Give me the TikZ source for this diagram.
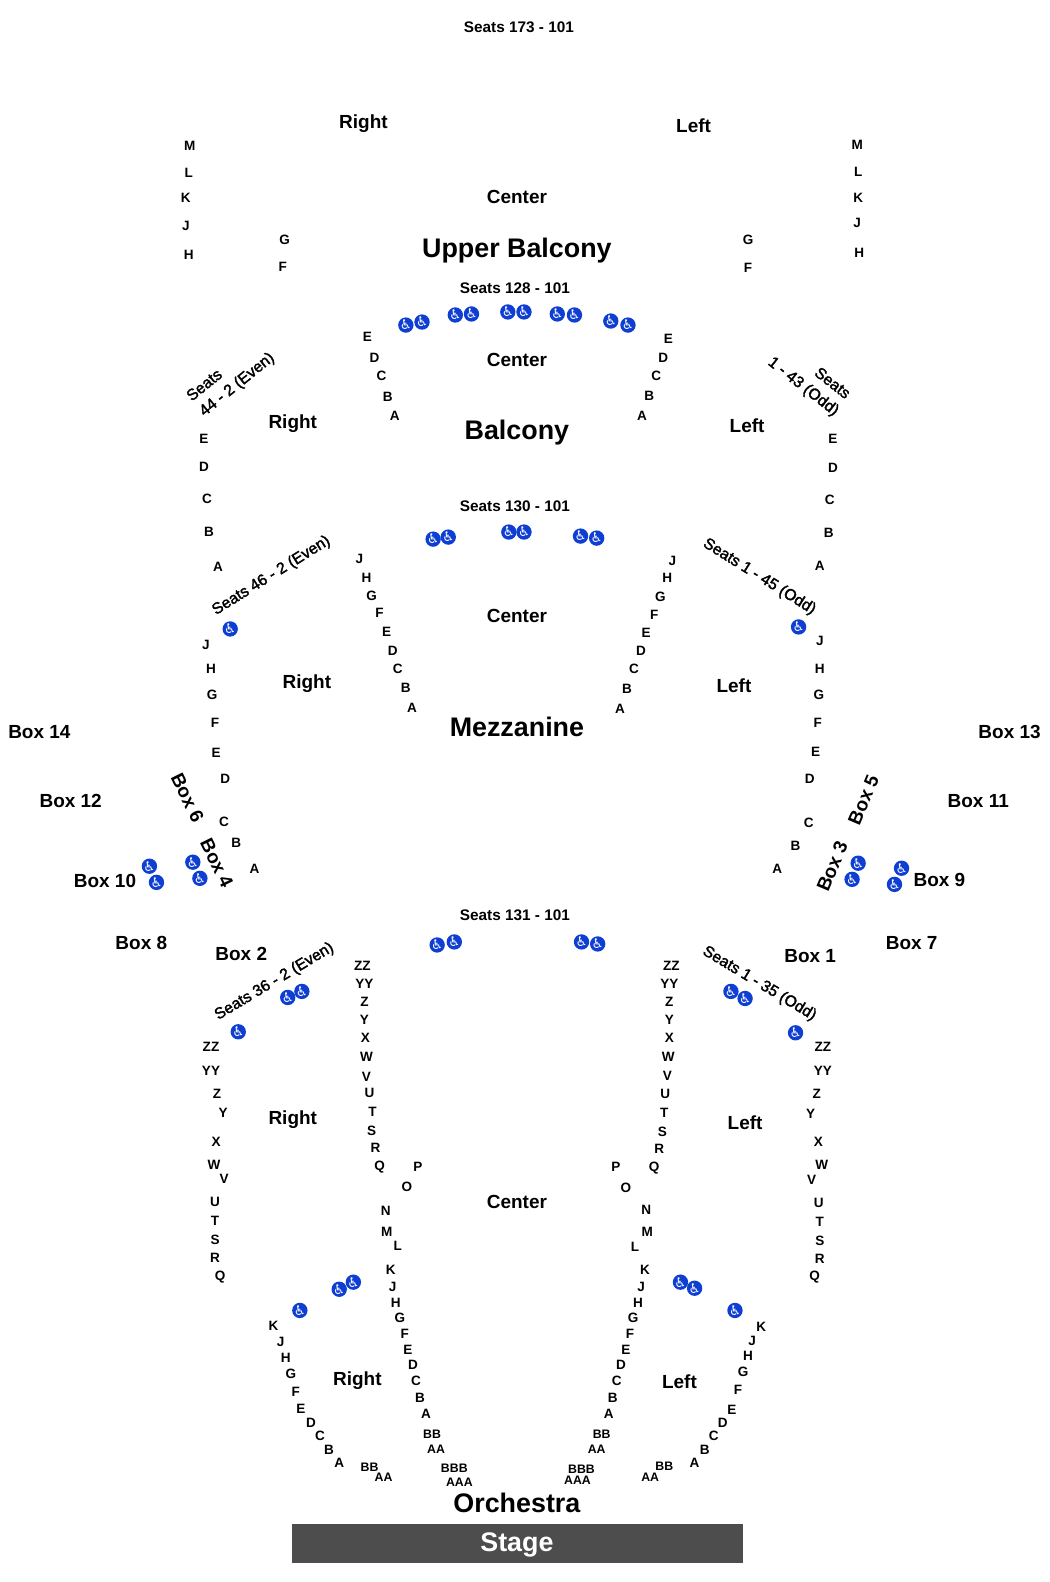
\documentclass[tikz,border=0pt]{standalone}
\usepackage{fontspec}
\setmainfont{Liberation Sans}
\newfontfamily\wcfont{DejaVu Sans}
\newfontfamily\medfont[FakeBold=2]{Liberation Sans}
\definecolor{wcblue}{HTML}{0F3FD2}
\definecolor{stagegray}{HTML}{4D4D4D}
\newcommand{\wcglyph}{{\wcfont\symbol{"267F}}}

\begin{document}
\begin{tikzpicture}[x=0.5pt,y=-0.5pt,
  lbl/.style={inner sep=0pt,text depth=0pt},
  rowlbl/.style={lbl,text height=4.8pt,font=\bfseries\fontsize{6.7}{7}\selectfont},
  dbllbl/.style={lbl,text height=4.4pt,font=\bfseries\fontsize{6.1}{7}\selectfont},
  seatlbl/.style={lbl,text height=5.4pt,font=\bfseries\fontsize{7.6}{8}\selectfont},
  slantlbl/.style={lbl,text height=5.6pt,font=\medfont\fontsize{7.8}{8}\selectfont},
  seclbl/.style={lbl,text height=6.8pt,font=\bfseries\fontsize{9.4}{10}\selectfont},
  levellbl/.style={lbl,text height=9.6pt,font=\bfseries\fontsize{13.3}{14}\selectfont},
  wheel/.style={circle,fill=wcblue,text=white,inner sep=0pt,minimum size=7pt,font=\fontsize{6.6}{6}\selectfont}]
\useasboundingbox (0,0) rectangle (1040,1567);

\fill[stagegray] (289.5,1509.5) rectangle (735.5,1548.5);
\node[levellbl,text=white] (stage) at (512,1527.5) {Stage};
\node[levellbl] (orchestra) at (512,1488.5) {Orchestra};
\node[levellbl] (mezzanine) at (512,720) {Mezzanine};
\node[levellbl] (balcony) at (512,426) {Balcony};
\node[levellbl] (upper) at (512,245) {Upper Balcony};

\foreach \t/\x/\y [count=\i] in {Seats 173 - 101/514/27,Seats 128 - 101/510/285,Seats 130 - 101/510/501,Seats 131 - 101/510/906.5}
  \node[seatlbl] (seats\i) at (\x,\y) {\t};

\node[slantlbl,rotate=39] (seatsa) at (202,381) {Seats};
\node[slantlbl,rotate=39] (seatsb) at (234,380) {44 - 2 (Even)};
\node[slantlbl,rotate=-38] (seatsc) at (825,379) {Seats};
\node[slantlbl,rotate=-38] (seatsd) at (796.5,382) {1 - 43 (Odd)};
\node[slantlbl,rotate=32] (seatse) at (268,569) {Seats 46 - 2 (Even)};
\node[slantlbl,rotate=-32] (seatsf) at (753,570) {Seats 1 - 45 (Odd)};
\node[slantlbl,rotate=31] (seatsg) at (271,971) {Seats 36 - 2 (Even)};
\node[slantlbl,rotate=-31] (seatsh) at (753,973) {Seats 1 - 35 (Odd)};

\foreach \t/\x/\y [count=\i] in {Right/360/120,Left/687/124,Center/512/195,Center/512/356,Right/290/418,Left/740/422,Center/512/610,Right/304/675.5,Left/727/679.5,Right/290/1107.5,Left/738/1111.5,Center/512/1190.5,Right/354/1365.5,Left/673/1368.5}
  \node[seclbl] (sec\i) at (\x,\y) {\t};

\foreach \t/\x/\y [count=\i] in {14/39/725,13/1000/725,12/70/793,11/969/793,10/104/872,9/930.5/871,8/140/934,7/903/934,2/239/945,1/802.5/947}
  \node[seclbl] (box\t) at (\x,\y) {Box \t};
\node[seclbl,rotate=-64] (box6) at (186,790) {Box 6};
\node[seclbl,rotate=-64] (box4) at (215,855) {Box 4};
\node[seclbl,rotate=67] (box5) at (855,792) {Box 5};
\node[seclbl,rotate=67] (box3) at (824,858) {Box 3};

% upper balcony
\foreach \t/\x/\y in {M/188/144,L/187/171,K/184/196,J/184/224,H/187/252,G/282/237,F/280/264}
  \node[rowlbl] (ubr\t) at (\x,\y) {\t};
\foreach \t/\x/\y in {M/849/143,L/850/170,K/850/196,J/849/221,H/851/250,G/741/237,F/741/265}
  \node[rowlbl] (ubl\t) at (\x,\y) {\t};

% balcony
\foreach \t/\x/\y in {E/364/333,D/371/354,C/378/372,B/384/393,A/391/412}
  \node[rowlbl] (bca\t) at (\x,\y) {\t};
\foreach \t/\x/\y in {E/662/335,D/657/354,C/650/372,B/643/392,A/636/412}
  \node[rowlbl] (bcb\t) at (\x,\y) {\t};
\foreach \t/\x/\y in {E/202/434,D/202/462,C/205/494,B/207/527,A/216/561}
  \node[rowlbl] (br\t) at (\x,\y) {\t};
\foreach \t/\x/\y in {E/825/434,D/825/463,C/822/495,B/821/528,A/812/560}
  \node[rowlbl] (bl\t) at (\x,\y) {\t};

% mezzanine
\foreach \t/\x/\y in {J/356/553,H/363/572,G/368/590,F/376/607,E/383/626,D/389/644,C/394/662,B/402/681,A/408/701}
  \node[rowlbl] (mca\t) at (\x,\y) {\t};
\foreach \t/\x/\y in {J/666/555,H/661/572,G/654/591,F/648/609,E/640/627,D/635/644,C/628/662,B/621/682,A/614/702}
  \node[rowlbl] (mcb\t) at (\x,\y) {\t};
\foreach \t/\x/\y in {J/204/639,H/209/662,G/210/688,F/213/716,E/214/746,D/223/771,C/222/814,B/234/835,A/252/860}
  \node[rowlbl] (mr\t) at (\x,\y) {\t};
\foreach \t/\x/\y in {J/812/635,H/812/662,G/811/688,F/810/716,E/808/745,D/802/771,C/801/815,B/788/838,A/770/860}
  \node[rowlbl] (ml\t) at (\x,\y) {\t};

% orchestra
\foreach \t/\x/\y in {ZZ/359/956,YY/361/974,Z/361/992,Y/361/1010,X/362/1028,W/363/1047,V/363/1066,U/366/1082,T/369/1101,S/368/1120,R/372/1137,Q/376/1155,P/414/1156,O/403/1175,N/382/1199,M/383/1220,L/394/1234,K/387/1258,J/389/1274,H/392/1290,G/396/1305,F/401/1321,E/404/1337,D/409/1352,C/412/1368,B/416/1384,A/422/1400}
  \node[rowlbl] (oca\t) at (\x,\y) {\t};
\foreach \t/\x/\y in {BB/428/1420.5,AA/432/1435.5,BBB/450/1454.5,AAA/455/1467.5}
  \node[dbllbl] (oca\t) at (\x,\y) {\t};
\foreach \t/\x/\y in {ZZ/665/956,YY/663/974,Z/663/992,Y/663/1010,X/663/1028,W/662/1047,V/661/1065,U/659/1083,T/658/1102,S/656/1121,R/653/1138,Q/648/1156,P/610/1156,O/620/1176,N/640/1198,M/641/1220,L/629/1235,K/639/1258,J/635/1274,H/632/1290,G/627/1305,F/624/1321,E/620/1337,D/615/1352,C/611/1368,B/607/1384,A/603/1400}
  \node[rowlbl] (ocb\t) at (\x,\y) {\t};
\foreach \t/\x/\y in {BB/596/1420.5,AA/591/1435.5,BBB/576/1455.5,AAA/572/1466.5}
  \node[dbllbl] (ocb\t) at (\x,\y) {\t};
\foreach \t/\x/\y in {ZZ/209/1037,YY/209/1060,Z/215/1083,Y/221/1102,X/214/1130.5,W/212/1154,V/222/1167,U/213/1190.5,T/213/1209,S/213/1228,R/213/1246,Q/218/1264,K/271/1313,J/278/1329,H/283/1345,G/288/1361,F/293/1378,E/298/1395,D/308/1409,C/317/1422,B/326/1436,A/336/1449}
  \node[rowlbl] (or\t) at (\x,\y) {\t};
\foreach \t/\x/\y in {BB/366/1453.5,AA/380/1463.5}
  \node[dbllbl] (or\t) at (\x,\y) {\t};
\foreach \t/\x/\y in {ZZ/815/1037,YY/815/1060,Z/809/1083,Y/803/1103,X/810.5/1131,W/814/1154,V/804/1168,U/811/1191,T/812/1210,S/812/1229,R/812/1247,Q/807/1264,K/754/1314,J/745/1328,H/741/1343,G/736/1359,F/731/1376,E/725/1396,D/716/1409,C/707/1422,B/698/1436,A/688/1449}
  \node[rowlbl] (ol\t) at (\x,\y) {\t};
\foreach \t/\x/\y in {BB/658/1452.5,AA/644/1463.5}
  \node[dbllbl] (ol\t) at (\x,\y) {\t};

% wheelchair spaces
\foreach \x/\y [count=\i] in {402/322,418/319,451/312,467/311,503/309,519/309,552/311,569/312,605/318,622/322,
  429/534,444/532,504/527,519/527,575/531,591/533,228/623,791/621,
  148/858,155/874,191/854,198/870,850/855,844/871,893/860,886/876,
  433/936,450/933,576/933,592/935,285/988,299/982,236/1022,724/982,738/989,788/1023,
  336/1277,350/1270,297/1298,674/1270,688/1276,728/1298}
  \node[wheel] (wc\i) at (\x,\y) {\wcglyph};
\end{tikzpicture}
\end{document}
